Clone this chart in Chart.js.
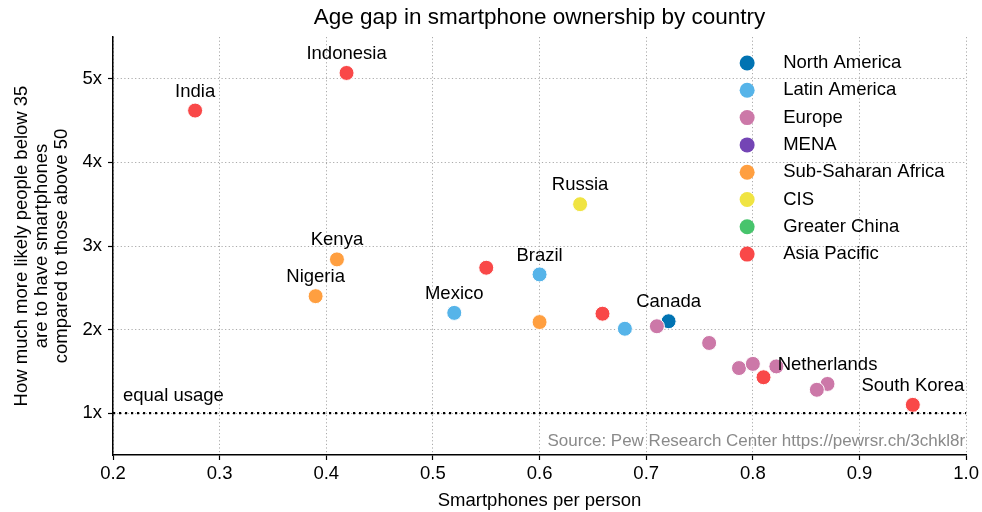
<!DOCTYPE html>
<html>
<head>
<meta charset="utf-8">
<script src="https://cdn.jsdelivr.net/npm/chart.js@4"></script>
<style>
  body { margin: 0; background: #fff; }
  #wrap { width: 982px; height: 512px; }
</style>
</head>
<body>
<div id="wrap"><canvas id="grafico" width="982" height="512"></canvas></div>
<script>
// regions in legend order
const regiones = ['North America', 'Latin America', 'Europe', 'MENA', 'Sub-Saharan Africa', 'CIS', 'Greater China', 'Asia Pacific']
const colores = ['#0173b2', '#56b4e9', '#cc78a8', '#7445b5', '#ff9f40', '#f0e442', '#47c46c', '#f94848']

// each country: smartphones per person, age ratio, region index, label
const paises = ['India', 'Indonesia', 'Russia', 'Kenya', 'Nigeria', '', 'Brazil', 'Mexico', '', '', '', 'Canada', '', '', '', '', '', '', 'Netherlands', '', 'South Korea']
const porPersona = [0.277, 0.419, 0.638, 0.41, 0.39, 0.55, 0.60, 0.52, 0.60, 0.659, 0.68, 0.721, 0.71, 0.759, 0.787, 0.80, 0.822, 0.81, 0.87, 0.86, 0.95]
const brecha = [4.62, 5.07, 3.50, 2.84, 2.40, 2.74, 2.66, 2.20, 2.09, 2.19, 2.01, 2.10, 2.04, 1.84, 1.54, 1.59, 1.56, 1.43, 1.35, 1.28, 1.10]
const region = [7, 7, 5, 4, 4, 7, 1, 1, 4, 7, 1, 0, 2, 2, 2, 2, 2, 7, 2, 2, 7]

const xTicks = [0.2, 0.3, 0.4, 0.5, 0.6, 0.7, 0.8, 0.9, 1.0]
const yTicks = [1, 2, 3, 4, 5]
const lineaIgual = 1

const fuente = 'Liberation Sans, Arial, Helvetica, sans-serif'

let datasets = regiones.map((nombre, i) => {
    let puntos = []
    porPersona.forEach((x, j) => {
        if (region[j] == i) puntos.push({ x: x, y: brecha[j], label: paises[j] })
    })
    return {
        label: nombre,
        data: puntos,
        backgroundColor: colores[i],
        borderColor: '#ffffff',
        borderWidth: 1,
        pointRadius: 7.5,
        pointHoverRadius: 7.5,
        order: regiones.length - i
    }
})

const extras = {
    id: 'extras',
    afterDatasetsDraw(chart) {
        const ctx = chart.ctx
        const xs = chart.scales.x
        const ys = chart.scales.y
        const area = chart.chartArea
        ctx.save()

        // equal usage line
        let yl = ys.getPixelForValue(lineaIgual)
        ctx.strokeStyle = '#000'
        ctx.lineWidth = 2.2
        ctx.setLineDash([2.2, 3.8])
        ctx.beginPath()
        ctx.moveTo(area.left, yl)
        ctx.lineTo(area.right, yl)
        ctx.stroke()
        ctx.setLineDash([])

        ctx.fillStyle = '#000'
        ctx.font = '18.5px ' + fuente
        ctx.textAlign = 'left'
        ctx.textBaseline = 'alphabetic'
        ctx.fillText('equal usage', area.left + 10, yl - 12)

        // country labels
        ctx.textAlign = 'center'
        ctx.textBaseline = 'middle'
        porPersona.forEach((x, j) => {
            if (!paises[j]) return
            ctx.fillText(paises[j], xs.getPixelForValue(x), ys.getPixelForValue(brecha[j]) - 19)
        })

        // source
        ctx.fillStyle = '#8a8a8a'
        ctx.font = '17px ' + fuente
        ctx.textAlign = 'right'
        ctx.fillText('Source: Pew Research Center https://pewrsr.ch/3chkl8r', area.right - 1, area.bottom - 14)

        // title
        ctx.fillStyle = '#000'
        ctx.font = '22.5px ' + fuente
        ctx.textAlign = 'center'
        ctx.fillText('Age gap in smartphone ownership by country', (area.left + area.right) / 2, 18)

        // legend inside plot
        ctx.font = '18.5px ' + fuente
        ctx.textAlign = 'left'
        regiones.forEach((nombre, i) => {
            let yy = area.top + 26 + i * 27.3
            ctx.beginPath()
            ctx.arc(area.right - 219, yy, 7.5, 0, Math.PI * 2)
            ctx.fillStyle = colores[i]
            ctx.fill()
            ctx.fillStyle = '#000'
            ctx.fillText(nombre, area.right - 183, yy)
        })
        ctx.restore()
    }
}

new Chart(document.querySelector('#grafico'), {
    type: 'scatter',
    data: { datasets: datasets },
    options: {
        responsive: false,
        animation: false,
        layout: { padding: { top: 37, right: 14, left: 0, bottom: 0 } },
        plugins: {
            legend: { display: false },
            title: { display: false },
            tooltip: { enabled: false }
        },
        scales: {
            x: {
                type: 'linear',
                min: 0.2,
                max: 1.0,
                afterBuildTicks: axis => { axis.ticks = xTicks.map(v => ({ value: v })) },
                afterFit: axis => { axis.height = 57 },
                ticks: {
                    color: '#000',
                    font: { family: fuente, size: 18.5 },
                    padding: 3,
                    maxRotation: 0,
                    callback: v => v.toFixed(1)
                },
                grid: { color: '#aaaaaa', lineWidth: 1, tickLength: 5, tickColor: '#000', tickWidth: 1.2 },
                border: { display: true, color: '#000', width: 1.5, dash: [1.2, 2.4] },
                title: { display: true, text: 'Smartphones per person', color: '#000', font: { family: fuente, size: 18.5 }, padding: { top: 6, bottom: 0 } }
            },
            y: {
                type: 'linear',
                min: 0.5,
                max: 5.5,
                afterBuildTicks: axis => { axis.ticks = yTicks.map(v => ({ value: v })) },
                afterFit: axis => { axis.width = 113 },
                ticks: {
                    color: '#000',
                    font: { family: fuente, size: 18.5 },
                    padding: 6,
                    callback: v => v + 'x'
                },
                grid: { color: '#aaaaaa', lineWidth: 1, tickLength: 5, tickColor: '#000', tickWidth: 1.2 },
                border: { display: true, color: '#000', width: 1.5, dash: [1.2, 2.4] },
                title: {
                    display: true,
                    text: ['How much more likely people below 35', 'are to have smartphones', 'compared to those above 50'],
                    color: '#000',
                    font: { family: fuente, size: 18.5, lineHeight: 1.08 },
                    padding: { top: 12, bottom: 0 }
                }
            }
        }
    },
    plugins: [extras]
})
</script>
</body>
</html>
